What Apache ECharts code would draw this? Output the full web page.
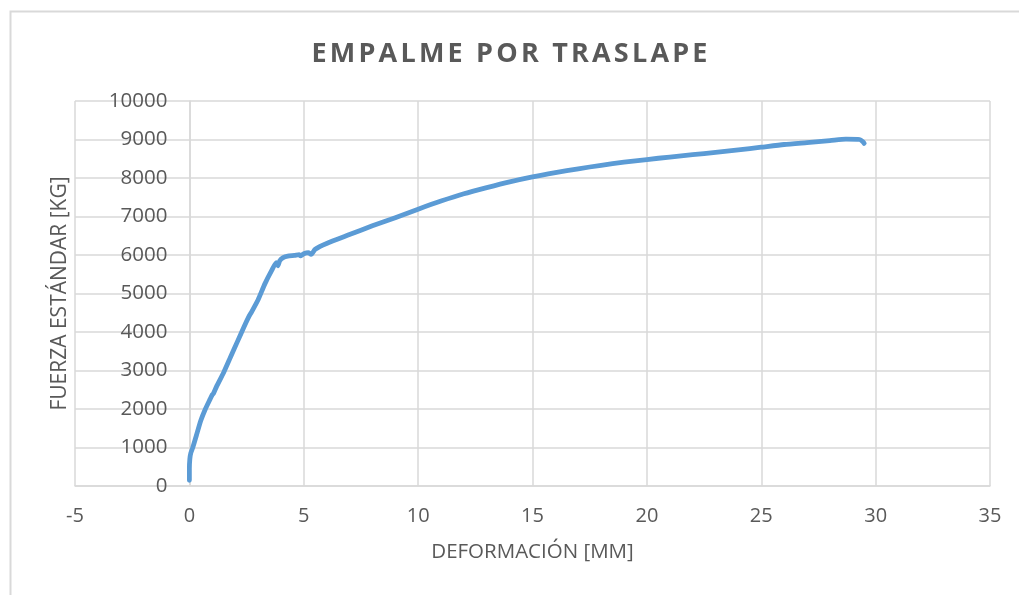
<!DOCTYPE html>
<html>
<head>
<meta charset="utf-8">
<script src="https://cdn.jsdelivr.net/npm/echarts@6/dist/echarts.min.js"></script>
<style>
  html, body { margin: 0; padding: 0; background: #ffffff; }
  #wrap { position: relative; width: 1019px; height: 595px; }
  #chart { width: 1019px; height: 595px; }
  #titulo {
    position: absolute; left: 0; width: 1019px; top: 33px; padding-left: 3.2px; box-sizing: border-box;
    text-align: center; font-family: "Open Sans", sans-serif; font-weight: 700;
    font-size: 27px; line-height: 38px; letter-spacing: 3.2px; color: #595959;
  }
</style>
</head>
<body>
<div id="wrap">
  <div id="chart"></div>
  <div id="titulo">EMPALME POR TRASLAPE</div>
</div>
<script>
// Ensayo de tracción: empalme por traslape
const deformacion = [
  0.00, 0.00, 0.02, 0.06, 0.15, 0.30, 0.50, 0.70, 0.90, 1.00, 1.05, 1.20,
  1.50, 1.80, 2.10, 2.40, 2.60, 2.70, 3.00, 3.30, 3.60, 3.80, 3.87, 3.95,
  4.10, 4.30, 4.60, 4.80, 4.85, 5.00, 5.20, 5.32, 5.50, 6.00, 7.00, 8.00,
  9.00, 10.0, 11.0, 12.0, 13.0, 14.0, 15.0, 16.0, 17.0, 18.0, 19.0, 20.0,
  21.0, 22.0, 23.0, 24.0, 25.0, 26.0, 27.0, 28.0, 28.7, 29.3, 29.45, 29.5
];
const fuerza = [
  150, 450, 700, 850, 1000, 1300, 1700, 2000, 2250, 2370, 2400, 2600,
  2950, 3350, 3750, 4150, 4400, 4500, 4830, 5250, 5600, 5800, 5720, 5850,
  5930, 5970, 5990, 6010, 5975, 6030, 6060, 6015, 6150, 6300, 6530, 6760,
  6970, 7190, 7400, 7590, 7750, 7900, 8030, 8140, 8240, 8330, 8410, 8480,
  8545, 8605, 8665, 8730, 8800, 8870, 8920, 8970, 9010, 9000, 8940, 8900
];
const ejeX = { min: -5, max: 35, paso: 5 };
const ejeY = { min: 0, max: 10000, paso: 1000 };

const puntos = deformacion.map((d, i) => [d, fuerza[i]]);

const gris = '#d9d9d9';
const texto = '#595959';
const fuente = '"Open Sans", sans-serif';

// el eje de fuerzas se dibuja sobre deformación = 0
const gridIzq = 75, gridDer = 29, ancho = 1019;
const xCero = (0 - ejeX.min) / (ejeX.max - ejeX.min) * (ancho - gridIzq - gridDer);

const chart = echarts.init(document.getElementById('chart'), null, { renderer: 'canvas' });
chart.setOption({
  animation: false,
  backgroundColor: '#ffffff',
  graphic: [{
    type: 'rect', left: 8, top: 9, silent: true,
    shape: { width: 1100, height: 700 },
    style: { fill: 'none', stroke: gris, lineWidth: 2 }
  }],
  grid: { left: gridIzq, right: gridDer, top: 101, bottom: 109, containLabel: false, outerBoundsMode: 'none' },
  xAxis: {
    type: 'value', min: ejeX.min, max: ejeX.max, interval: ejeX.paso,
    name: 'DEFORMACIÓN [MM]', nameLocation: 'middle', nameGap: 56,
    nameTextStyle: { color: texto, fontFamily: fuente, fontSize: 20.5 },
    axisLine: { show: true, lineStyle: { color: gris, width: 1.5 } },
    axisTick: { show: false },
    axisLabel: { color: texto, fontFamily: fuente, fontSize: 20, margin: 20 },
    splitLine: { show: true, lineStyle: { color: gris, width: 1.5 } }
  },
  yAxis: {
    type: 'value', min: ejeY.min, max: ejeY.max, interval: ejeY.paso,
    offset: -xCero,
    name: 'FUERZA ESTÁNDAR [KG]', nameLocation: 'middle', nameGap: 119, nameRotate: 90,
    nameTextStyle: { color: texto, fontFamily: fuente, fontSize: 21 },
    axisLine: { show: true, onZero: false, lineStyle: { color: gris, width: 1.5 } },
    axisTick: { show: false },
    axisLabel: { color: texto, fontFamily: fuente, fontSize: 20.5, margin: 22, formatter: v => String(v) },
    splitLine: { show: true, lineStyle: { color: gris, width: 1.5 } }
  },
  series: [{
    type: 'line',
    data: puntos,
    showSymbol: false,
    smooth: 0.2,
    lineStyle: { color: '#5b9bd5', width: 4.8, cap: 'round', join: 'round' },
    itemStyle: { color: '#5b9bd5' }
  }]
});
</script>
</body>
</html>
